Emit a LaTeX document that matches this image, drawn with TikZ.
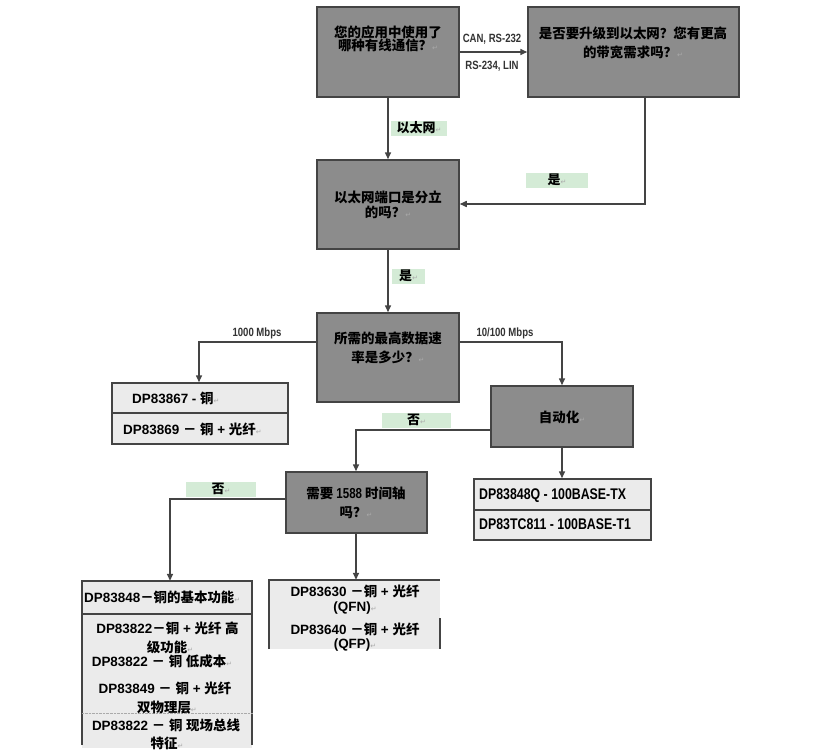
\documentclass[tikz,border=0pt]{standalone}
\usepackage{fontspec}
\usetikzlibrary{arrows.meta}
\setmainfont{Liberation Sans}
\newfontfamily\cjk{Noto Sans CJK SC}
\newfontfamily\cond{Liberation Sans}[FakeStretch=0.8]
\newfontfamily\dvu{DejaVu Sans}
\definecolor{boxgray}{HTML}{8C8C8C}
\definecolor{linec}{HTML}{444444}
\definecolor{lightc}{HTML}{EBEBEB}
\definecolor{tagg}{HTML}{D4EBD6}
\definecolor{labc}{HTML}{333333}
\definecolor{retc}{HTML}{AAAAAA}
\newcommand\rt{{\dvu\mdseries\color{retc}\fontsize{7}{7}\selectfont ↵}}
\newcommand\zh[1]{{\cjk #1}}
\tikzset{
  qbox/.style={draw=linec, line width=1.5bp, fill=boxgray, inner sep=0pt},
  qtext/.style={font=\cjk\bfseries\fontsize{13.5}{#1}\selectfont, align=center, inner sep=0pt},
  qtext/.default=19,
  conn/.style={draw=linec, line width=1.5bp, -{Triangle[length=7bp,width=6bp]}},
  tag/.style={fill=tagg, inner sep=0pt, minimum height=15bp, font=\cjk\bfseries\fontsize{13}{13}\selectfont},
  lab/.style={font=\cond\bfseries\fontsize{12}{12}\selectfont, text=labc, inner sep=0pt},
  rbox/.style={draw=linec, line width=1.5bp, fill=lightc, inner sep=0pt},
  rfill/.style={fill=lightc, inner sep=0pt},
  rline/.style={draw=linec, line width=1.5bp},
  rtext/.style={font=\bfseries\fontsize{13.5}{13.5}\selectfont, inner sep=0pt},
  ctext/.style={font=\cond\bfseries\fontsize{15.5}{15.5}\selectfont, inner sep=0pt},
}
\begin{document}
\begin{tikzpicture}[x=1bp,y=-1bp]
\useasboundingbox[fill=white] (0,0) rectangle (821,751);
% question boxes
\node[qbox, minimum width=142bp, minimum height=90bp] (q1) at (388,52) {};
\node[qbox, minimum width=211bp, minimum height=90bp] (q2) at (633.5,52) {};
\node[qbox, minimum width=142bp, minimum height=89bp] (q3) at (388,204.5) {};
\node[qbox, minimum width=142bp, minimum height=89bp] (q4) at (388,357.5) {};
\node[qbox, minimum width=142bp, minimum height=61bp] (a) at (562,416.5) {};
\node[qbox, minimum width=141bp, minimum height=61bp] (q5) at (356.5,502.5) {};
\node[qtext=13.5] (q1t) at (388,39) {您的应用中使用了\\哪种有线通信？\rt};
\node[qtext] (q2t) at (633,43) {是否要升级到以太网？您有更高\\的带宽需求吗？\rt};
\node[qtext=15] (q3t) at (388,205) {以太网端口是分立\\的吗？\rt};
\node[qtext] (q4t) at (388,348) {所需的最高数据速\\率是多少？\rt};
\node[qtext] (at) at (562,417) {自动化\rt};
\node[qtext] (q5t) at (356,503) {需要 {\cond\bfseries\fontsize{14.5}{14.5}\selectfont 1588} 时间轴\\吗？\rt};
% result boxes
\node[rbox, minimum width=176bp, minimum height=61bp] (r1) at (200,413.5) {};
\draw[rline] (r1.west |- 0,413) -- (r1.east |- 0,413);
\node[rtext, anchor=west] (r1a) at (132,398) {DP83867 - \zh{铜}\rt};
\node[rtext, anchor=west] (r1b) at (123,429) {DP83869 \zh{－} \zh{铜} + \zh{光纤}\rt};
\node[rbox, minimum width=177bp, minimum height=61bp] (r2) at (562.5,509.5) {};
\draw[rline] (r2.west |- 0,510) -- (r2.east |- 0,510);
\node[ctext, anchor=west] (r2a) at (479,496) {DP83848Q - 100BASE-TX};
\node[ctext, anchor=west] (r2b) at (479,524) {DP83TC811 - 100BASE-T1};
\node[rfill, minimum width=171bp, minimum height=69bp] (r3) at (354.5,614.5) {};
\draw[rline] (r3.south west) -- (r3.north west) -- (r3.north east);
\draw[rline] (r3.east |- 0,618) -- (r3.south east);
\node[rtext] (r3a) at (355,591) {DP83630 \zh{－铜} + \zh{光纤}};
\node[rtext] (r3b) at (355,608) {(QFN)\rt};
\node[rtext] (r3c) at (355,629) {DP83640 \zh{－铜} + \zh{光纤}};
\node[rtext] (r3d) at (355,645) {(QFP)\rt};
\node[rfill, minimum width=170bp, minimum height=167bp] (r4) at (167,664.5) {};
\draw[rline] (r4.west |- 0,745) -- (r4.north west) -- (r4.north east) -- (r4.east |- 0,745);
\draw[rline] (r4.west |- 0,614) -- (r4.east |- 0,614);
\draw[retc, densely dotted] (r4.west |- 0,713) -- (r4.east |- 0,713);
\node[rtext, anchor=west] (r4a) at (84,597) {DP83848\zh{－铜的基本功能}\rt};
\node[rtext] (r4b) at (167.5,628) {DP83822\zh{－铜} + \zh{光纤} \zh{高}};
\node[rtext] (r4c) at (170,647) {\zh{级功能}\rt};
\node[rtext] (r4d) at (162,661) {DP83822 \zh{－} \zh{铜} \zh{低成本}\rt};
\node[rtext] (r4e) at (165,688) {DP83849 \zh{－} \zh{铜} + \zh{光纤}};
\node[rtext] (r4f) at (167,707) {\zh{双物理层}\rt};
\node[rtext] (r4g) at (166,725) {DP83822 \zh{－} \zh{铜} \zh{现场总线}};
\node[rtext] (r4h) at (167,743) {\zh{特征}\rt};
% tags
\node[tag, minimum width=56bp] (t1) at (419,128) {以太网\rt};
\node[tag, minimum width=62bp] (t2) at (557,180) {是\rt};
\node[tag, minimum width=33bp] (t3) at (408.5,276) {是\rt};
\node[tag, minimum width=69bp] (t4) at (416.5,420) {否\rt};
\node[tag, minimum width=70bp] (t5) at (221,489) {否\rt};
% labels
\node[lab] (l1) at (492,39) {CAN, RS-232};
\node[lab] (l2) at (492,66) {RS-234, LIN};
\node[lab] (l3) at (257,333) {1000 Mbps};
\node[lab] (l4) at (505,333) {10/100 Mbps};
% connectors
\coordinate (c1) at (645,204);
\coordinate (k1) at (199,342);
\coordinate (k2) at (356,430);
\coordinate (k3) at (170,499);
\coordinate (k4) at (562,342);
\draw[conn] (q1.east) -- (q2.west);
\draw[conn] (q1.south) -- (q3.north);
\draw[conn] (q2.south -| c1) -- (c1) -- (q3.east |- c1);
\draw[conn] (q3.south) -- (q4.north);
\draw[conn] (q4.west |- k1) -- (k1) -- (k1 |- r1.north);
\draw[conn] (q4.east |- k4) -- (k4) -- (k4 |- a.north);
\draw[conn] (a.west |- k2) -- (k2) -- (k2 |- q5.north);
\draw[conn] (a.south -| k4) -- (k4 |- r2.north);
\draw[conn] (q5.west |- k3) -- (k3) -- (k3 |- r4.north);
\draw[conn] (q5.south -| k2) -- (k2 |- r3.north);
\end{tikzpicture}
\end{document}
